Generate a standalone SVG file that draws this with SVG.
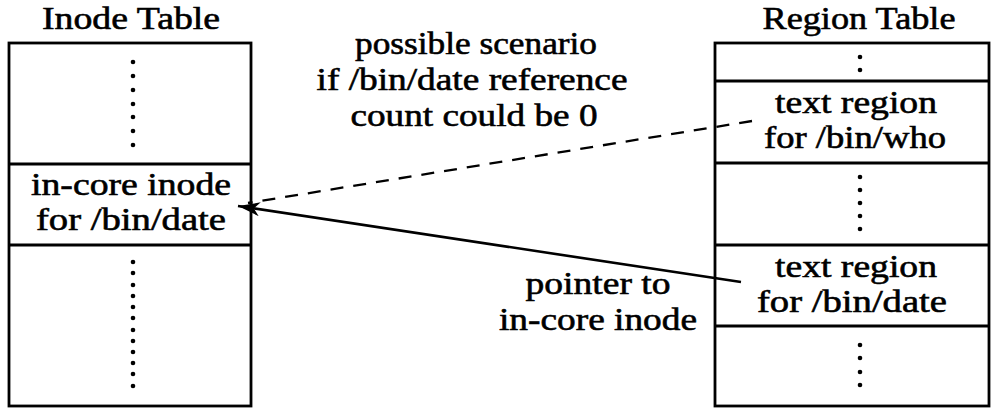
<svg xmlns="http://www.w3.org/2000/svg" width="992" height="409" viewBox="0 0 992 409">
<style>
text{font-family:"Liberation Serif","Times New Roman",serif;font-size:32px;fill:#000;stroke:#000;stroke-width:0.6;text-anchor:middle}
.box{fill:#fff;stroke:#000;stroke-width:2.8}
.sep{stroke:#000;stroke-width:2.8}
.dot{fill:#000}
.conn{fill:none;stroke:#000;stroke-width:2.6}
.dash{stroke-dasharray:13 10;stroke-width:2.3}
</style>
<defs>
<marker id="arr" markerWidth="24" markerHeight="14" refX="22" refY="7" orient="auto" markerUnits="userSpaceOnUse">
<path d="M0,0 L22,7 L0,14 L6,7 Z" fill="#000"/>
</marker>
</defs>
<rect width="992" height="409" fill="#fff"/>
<g id="title-inode"><text x="131" y="29" textLength="178" lengthAdjust="spacingAndGlyphs">Inode Table</text></g>
<g id="title-region"><text x="859" y="29" textLength="193" lengthAdjust="spacingAndGlyphs">Region Table</text></g>
<g id="inode-table">
<rect class="box" x="9" y="43" width="242" height="363"/>
<line class="sep" x1="9" y1="164" x2="251" y2="164"/>
<line class="sep" x1="9" y1="245" x2="251" y2="245"/>
<g class="dot">
<circle cx="133" cy="62" r="2.3"/><circle cx="133" cy="76" r="2.3"/><circle cx="133" cy="90" r="2.3"/><circle cx="133" cy="104" r="2.3"/><circle cx="133" cy="117" r="2.3"/><circle cx="133" cy="131" r="2.3"/><circle cx="133" cy="145" r="2.3"/>
<circle cx="133" cy="262" r="2.3"/><circle cx="133" cy="273" r="2.3"/><circle cx="133" cy="285" r="2.3"/><circle cx="133" cy="296" r="2.3"/><circle cx="133" cy="307" r="2.3"/><circle cx="133" cy="318" r="2.3"/><circle cx="133" cy="330" r="2.3"/><circle cx="133" cy="341" r="2.3"/><circle cx="133" cy="352" r="2.3"/><circle cx="133" cy="363" r="2.3"/><circle cx="133" cy="374" r="2.3"/><circle cx="133" cy="386" r="2.3"/>
</g>
</g>
<g id="inode-entry">
<text x="131" y="195" textLength="200" lengthAdjust="spacingAndGlyphs">in-core inode</text>
<text x="131" y="230" textLength="190" lengthAdjust="spacingAndGlyphs">for /bin/date</text>
</g>
<g id="region-table">
<rect class="box" x="715" y="43" width="274" height="363"/>
<line class="sep" x1="715" y1="81" x2="989" y2="81"/>
<line class="sep" x1="715" y1="163" x2="989" y2="163"/>
<line class="sep" x1="715" y1="245" x2="989" y2="245"/>
<line class="sep" x1="715" y1="326" x2="989" y2="326"/>
<g class="dot">
<circle cx="860" cy="57" r="2.3"/><circle cx="860" cy="70" r="2.3"/>
<circle cx="860" cy="177" r="2.3"/><circle cx="860" cy="190" r="2.3"/><circle cx="860" cy="203" r="2.3"/><circle cx="860" cy="216" r="2.3"/><circle cx="860" cy="229" r="2.3"/>
<circle cx="860" cy="345" r="2.3"/><circle cx="860" cy="358" r="2.3"/><circle cx="860" cy="372" r="2.3"/><circle cx="860" cy="385" r="2.3"/>
</g>
</g>
<g id="region-who">
<text x="856" y="113" textLength="162" lengthAdjust="spacingAndGlyphs">text region</text>
<text x="855" y="148" textLength="182" lengthAdjust="spacingAndGlyphs">for /bin/who</text>
</g>
<g id="region-date">
<text x="856" y="277" textLength="162" lengthAdjust="spacingAndGlyphs">text region</text>
<text x="852" y="312" textLength="190" lengthAdjust="spacingAndGlyphs">for /bin/date</text>
</g>
<g id="connectors">
<line class="conn dash" x1="752" y1="121" x2="248" y2="203"/>
<line class="conn" x1="741" y1="282" x2="238" y2="206" marker-end="url(#arr)"/>
</g>
<g id="label-scenario">
<text x="476" y="54" textLength="242" lengthAdjust="spacingAndGlyphs">possible scenario</text>
<text x="472" y="90" textLength="311" lengthAdjust="spacingAndGlyphs">if /bin/date reference</text>
<text x="474" y="126" textLength="247" lengthAdjust="spacingAndGlyphs">count could be 0</text>
</g>
<g id="label-pointer">
<text x="598" y="294" textLength="145" lengthAdjust="spacingAndGlyphs">pointer to</text>
<text x="598" y="330" textLength="198" lengthAdjust="spacingAndGlyphs">in-core inode</text>
</g>
</svg>
